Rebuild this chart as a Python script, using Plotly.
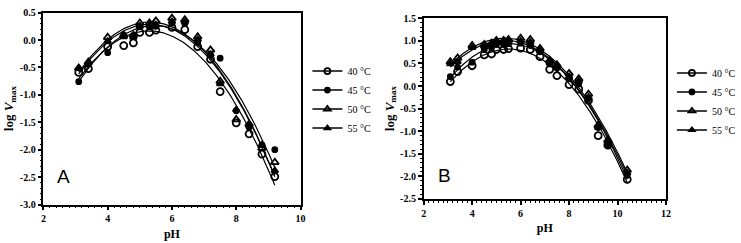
import numpy as np
import plotly.graph_objects as go

# ---------------- data ----------------
temps = ["40 °C", "45 °C", "50 °C", "55 °C"]

ph_a = [3.1, 3.4, 4.0, 4.5, 4.8, 5.0, 5.3, 5.5, 6.0, 6.4, 6.8, 7.2, 7.5, 8.0, 8.4, 8.8, 9.2]
a_40 = [-0.59, -0.52, -0.12, -0.10, -0.05, 0.14, 0.14, 0.18, 0.23, 0.19, -0.12, -0.35, -0.94, -1.51, -1.71, -2.08, -2.49]
a_45 = [-0.76, -0.44, -0.23, 0.09, 0.08, 0.24, 0.24, 0.25, 0.31, 0.30, -0.04, -0.27, -0.33, -1.29, -1.59, -1.91, -2.00]
a_50 = [-0.51, -0.40, 0.05, 0.09, 0.09, 0.31, 0.31, 0.35, 0.40, 0.37, 0.06, -0.18, -0.75, -1.45, -1.53, -1.97, -2.23]
a_55 = [-0.52, -0.41, -0.02, 0.06, 0.05, 0.25, 0.27, 0.28, 0.34, 0.33, 0.01, -0.26, -0.80, -1.27, -1.56, -1.91, -2.38]

ph_b = [3.1, 3.4, 4.0, 4.5, 4.8, 5.0, 5.3, 5.5, 6.0, 6.4, 6.8, 7.2, 7.5, 8.0, 8.4, 8.8, 9.2, 9.6, 10.4]
b_40 = [0.10, 0.32, 0.45, 0.69, 0.71, 0.81, 0.81, 0.83, 0.84, 0.81, 0.65, 0.37, 0.23, 0.03, -0.07, -0.32, -1.10, -1.31, -2.07]
b_45 = [0.21, 0.42, 0.53, 0.81, 0.85, 0.92, 0.92, 0.94, 0.95, 0.90, 0.76, 0.49, 0.40, 0.18, 0.05, -0.28, -0.92, -1.30, -1.98]
b_50 = [0.54, 0.62, 0.90, 0.92, 0.95, 1.01, 1.01, 1.03, 1.06, 1.03, 0.83, 0.57, 0.47, 0.28, 0.16, -0.18, -0.87, -1.20, -1.86]
b_55 = [0.49, 0.54, 0.85, 0.88, 0.92, 0.97, 0.97, 0.99, 1.00, 0.97, 0.78, 0.52, 0.45, 0.21, 0.11, -0.25, -0.92, -1.24, -1.92]

ytick_a = [0.5, 0.0, -0.5, -1.0, -1.5, -2.0, -2.5, -3.0]
ytick_b = [1.5, 1.0, 0.5, 0.0, -0.5, -1.0, -1.5, -2.0, -2.5]
xtick_a = [2, 4, 6, 8, 10]
xtick_b = [2, 4, 6, 8, 10, 12]

# ---------------- styles ----------------
W, H = 741, 243
symbols = ["circle-open", "circle", "triangle-up-open", "triangle-up"]
msizes = [7, 5, 7, 6]
leg_sizes = [6, 5, 6, 5]
TICKFONT = dict(family="Liberation Serif", size=10, color="black")
SERIF = "Liberation Serif"

fig = go.Figure()


def add_panel(ph, series, xa, ya, legend):
    xs = np.linspace(min(ph), max(ph), 200)
    for name, ys, sym, ms, ls in zip(temps, series, symbols, msizes, leg_sizes):
        coef = np.polyfit(ph, ys, 2)
        fig.add_trace(go.Scatter(x=xs, y=np.polyval(coef, xs), mode="lines",
                                 line=dict(color="black", width=1.2),
                                 xaxis=xa, yaxis=ya, showlegend=False, hoverinfo="skip"))
        fig.add_trace(go.Scatter(x=ph, y=ys, mode="markers",
                                 marker=dict(symbol=sym, size=ms, color="black",
                                             line=dict(color="black", width=1.8)),
                                 xaxis=xa, yaxis=ya, showlegend=False))
        fig.add_trace(go.Scatter(x=[None], y=[None], mode="lines+markers", name=name,
                                 marker=dict(symbol=sym, size=ls, color="black",
                                             line=dict(color="black", width=1.8)),
                                 line=dict(color="black", width=1.5),
                                 xaxis=xa, yaxis=ya, legend=legend))


add_panel(ph_a, [a_40, a_45, a_50, a_55], "x", "y", "legend")
add_panel(ph_b, [b_40, b_45, b_50, b_55], "x2", "y2", "legend2")


def xaxis(dom, rng, ticks, anchor):
    return dict(domain=dom, range=rng, tickvals=ticks, ticktext=[f"<b>{t}</b>" for t in ticks],
                showline=True, linecolor="black", linewidth=1.5, mirror=True,
                ticks="outside", ticklen=4, tickwidth=1.5, tickcolor="black",
                minor=dict(ticks="outside", ticklen=2, dtick=0.2, tickwidth=1, tickcolor="black"),
                showgrid=False, zeroline=False, tickfont=TICKFONT, anchor=anchor,
                title=dict(text="<b>pH</b>", font=dict(family=SERIF, size=12, color="black"), standoff=6))


def yaxis(dom, rng, ticks, anchor):
    return dict(domain=dom, range=rng, tickvals=ticks, ticktext=[f"<b>{t:.1f}</b>" for t in ticks],
                showline=True, linecolor="black", linewidth=1.5, mirror=True,
                ticks="outside", ticklen=4, tickwidth=1.5, tickcolor="black",
                minor=dict(ticks="outside", ticklen=2, dtick=0.1, tickwidth=1, tickcolor="black"),
                showgrid=False, zeroline=False, tickfont=TICKFONT, anchor=anchor,
                title=dict(text="<b>log <i>V</i><sub>max</sub></b>",
                           font=dict(family=SERIF, size=13, color="black"), standoff=3))


legend_common = dict(font=dict(family=SERIF, size=10, color="black"), bgcolor="rgba(0,0,0,0)",
                     xanchor="left", yanchor="top", tracegroupgap=0, itemwidth=30)

fig.update_layout(
    width=W, height=H,
    margin=dict(l=0, r=0, t=0, b=0),
    paper_bgcolor="white", plot_bgcolor="white",
    xaxis=xaxis([41 / W, 302 / W], [2, 10], xtick_a, "y"),
    yaxis=yaxis([1 - 209 / H, 1 - 8 / H], [-3.0, 0.5], ytick_a, "x"),
    xaxis2=xaxis([427 / W, 673 / W], [2, 12], xtick_b, "y2"),
    yaxis2=yaxis([1 - 203 / H, 1 - 14 / H], [-2.5, 1.5], ytick_b, "x2"),
    legend=dict(x=309 / W, y=1 - 54 / H, **legend_common),
    legend2=dict(x=679 / W, y=1 - 56 / H, **legend_common),
    showlegend=True,
    annotations=[
        dict(text="A", xref="x domain", yref="y domain", x=0.08, y=0.145, showarrow=False,
             font=dict(family="Liberation Sans", size=19, color="black"), xanchor="center", yanchor="middle"),
        dict(text="B", xref="x2 domain", yref="y2 domain", x=0.085, y=0.13, showarrow=False,
             font=dict(family="Liberation Sans", size=19, color="black"), xanchor="center", yanchor="middle"),
    ],
)

fig.write_html("out.html")
